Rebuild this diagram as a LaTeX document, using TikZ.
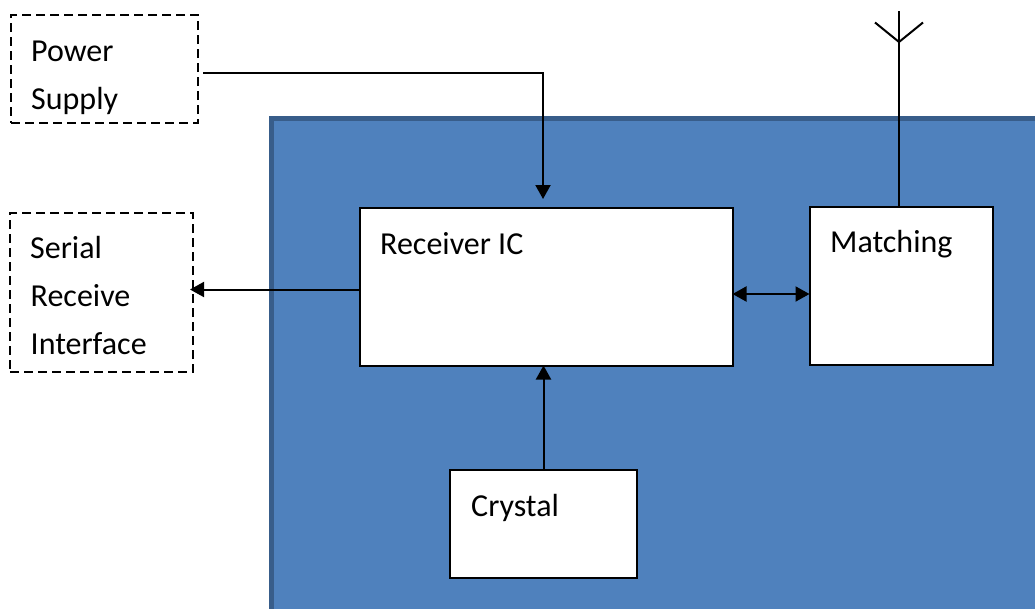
\documentclass[tikz,border=0pt]{standalone}
\usepackage{fontspec}
\setmainfont{Carlito}
\usetikzlibrary{arrows.meta}
\definecolor{panelblue}{HTML}{4F81BD}
\definecolor{paneledge}{HTML}{385D8A}
\begin{document}
\begin{tikzpicture}[x=1pt,y=-1pt,
  lbl/.style={font=\fontsize{32}{32}\selectfont,anchor=base west,inner sep=0pt},
  block/.style={draw=black,fill=white,line width=2pt,anchor=north west,inner sep=0pt,outer sep=0pt},
  dashbox/.style={draw=black,dash pattern=on 9pt off 5pt,line width=1.8pt,anchor=north west,inner sep=0pt,outer sep=0pt},
  conn/.style={draw=black,line width=2pt},
  tip/.style={-{Triangle[length=14pt,width=15pt]}},
  tips/.style={{Triangle[length=14pt,width=15pt]}-{Triangle[length=14pt,width=15pt]}}]
\useasboundingbox (0,0) rectangle (1035,608);
\fill[panelblue,draw=paneledge,line width=4.5pt] (271.5,118.5) -- (1042,118.5) -- (1042,615) -- (271.5,615) -- cycle;
\node[dashbox,minimum width=187pt,minimum height=108pt] (ps) at (11,15) {};
\node[dashbox,minimum width=183pt,minimum height=159pt] (sr) at (10,213) {};
\node[block,minimum width=373pt,minimum height=158pt] (rx) at (359.5,207.5) {};
\node[block,minimum width=183pt,minimum height=158pt] (ma) at (809.5,206.5) {};
\node[block,minimum width=187pt,minimum height=108pt] (cr) at (450,469.5) {};
\node[lbl] (t1) at (31,61) {Power};
\node[lbl] (t2) at (31,109) {Supply};
\node[lbl] (t3) at (30,258) {Serial};
\node[lbl] (t4) at (30.5,306) {Receive};
\node[lbl] (t5) at (30.5,354) {Interface};
\node[lbl] (t6) at (380,254) {Receiver IC};
\node[lbl] (t7) at (830,252) {Matching};
\node[lbl] (t8) at (471,516) {Crystal};
\coordinate (psout) at (203,72.5);
\coordinate (rxin) at (543,199);
\coordinate (srin) at (190,289.5);
\coordinate (ante) at (899,206);
\coordinate (antt) at (899,11);
\coordinate (antj) at (899,42);
\coordinate (antl) at (875,22.5);
\coordinate (antr) at (923,22.5);
\draw[conn,tip] (psout) -| (rxin);
\draw[conn,tip] (rx.west |- srin) -- (srin);
\draw[conn,tips] (rx.east |- 0,294) -- (ma.west |- 0,294);
\draw[conn,tip] (cr.north) -- (cr.north |- rx.south);
\draw[conn] (ante) -- (antt);
\draw[conn] (antl) -- (antj) -- (antr);
\end{tikzpicture}
\end{document}
